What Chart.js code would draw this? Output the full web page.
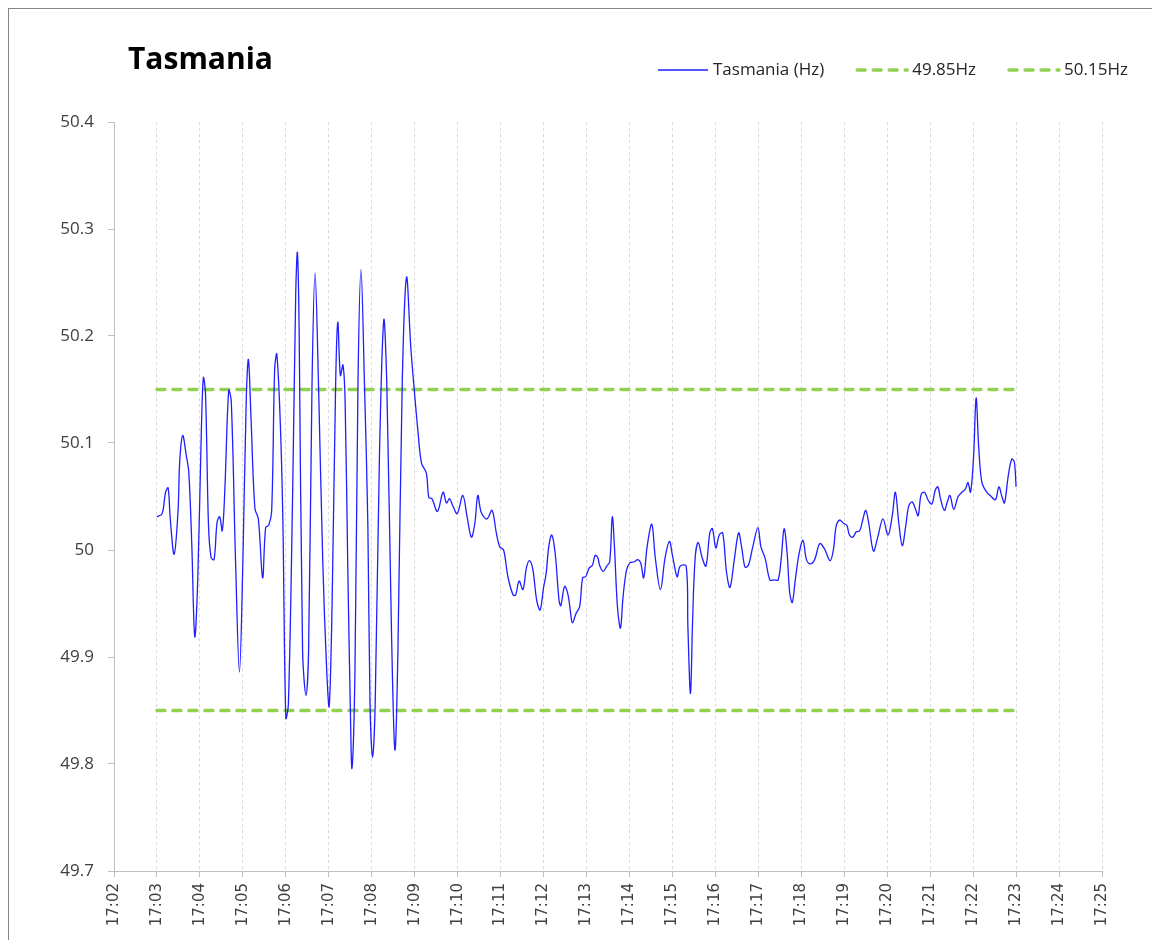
<!DOCTYPE html>
<html>
<head>
<meta charset="utf-8">
<script src="https://cdn.jsdelivr.net/npm/chart.js@4"></script>
<style>
html, body { margin: 0; padding: 0; background: #fff; overflow: hidden; }
#wrap { position: relative; width: 1152px; height: 940px; }
#frame { position: absolute; left: 8px; top: 8px; width: 1200px; height: 1000px; border: 1px solid #868686; pointer-events: none; }
</style>
</head>
<body>
<div id="wrap">
  <canvas id="chart" width="1152" height="940"></canvas>
  <div id="frame"></div>
</div>
<script>
const chartTitle = 'Tasmania';
const hour = 17;

// minutes past 17:00
const minutes = [
  3.00, 3.12, 3.20, 3.26, 3.31, 3.40, 3.49, 3.53, 3.60, 3.68, 3.74, 3.81, 3.88, 3.95,
  4.03, 4.08, 4.13, 4.20, 4.26, 4.33, 4.40, 4.46, 4.52, 4.58, 4.67, 4.73, 4.83, 4.92,
  5.00, 5.08, 5.13, 5.19, 5.28, 5.36, 5.46, 5.53, 5.60, 5.67, 5.74, 5.79, 5.87, 5.93,
  6.00, 6.06, 6.16, 6.23, 6.27, 6.31, 6.39, 6.47, 6.53, 6.61, 6.68, 6.76, 6.86, 6.95,
  7.01, 7.08, 7.16, 7.21, 7.27, 7.33, 7.38, 7.44, 7.50, 7.54, 7.61, 7.68, 7.75, 7.83, 7.91, 7.96,
  8.02, 8.08, 8.18, 8.28, 8.35, 8.46, 8.54, 8.61, 8.71, 8.81, 8.91,
  9.00, 9.08, 9.16, 9.27, 9.33, 9.40, 9.53, 9.66, 9.74, 9.81, 9.89, 9.99,
  10.12, 10.22, 10.32, 10.40, 10.47, 10.55, 10.68, 10.80, 10.90, 10.98,
  11.07, 11.17, 11.29, 11.35, 11.43, 11.52, 11.60, 11.67, 11.75, 11.84, 11.92,
  12.00, 12.06, 12.12, 12.19, 12.27, 12.36, 12.40, 12.49, 12.57, 12.63, 12.67, 12.76, 12.84, 12.91, 12.98,
  13.06, 13.14, 13.20, 13.26, 13.31, 13.39, 13.47, 13.54, 13.60, 13.65, 13.72, 13.79, 13.85, 13.93,
  14.01, 14.11, 14.19, 14.26, 14.33, 14.41, 14.52, 14.60, 14.72, 14.83, 14.93,
  15.00, 15.11, 15.18, 15.32, 15.36, 15.42, 15.47, 15.53, 15.60, 15.69, 15.78, 15.87, 15.93,
  16.01, 16.09, 16.17, 16.26, 16.34, 16.44, 16.54, 16.61, 16.69, 16.77, 16.87, 16.99,
  17.06, 17.16, 17.27, 17.37, 17.46, 17.53, 17.60, 17.67, 17.73, 17.79, 17.86, 17.95,
  18.04, 18.12, 18.21, 18.31, 18.43, 18.54, 18.67, 18.75, 18.81, 18.89, 18.98,
  19.06, 19.12, 19.20, 19.28, 19.36, 19.43, 19.50, 19.57, 19.68, 19.78, 19.90,
  20.02, 20.12, 20.19, 20.27, 20.35, 20.43, 20.50, 20.58, 20.66, 20.72, 20.79, 20.87, 20.96,
  21.04, 21.12, 21.18, 21.24, 21.33, 21.40, 21.46, 21.55, 21.65, 21.74, 21.82, 21.88, 21.94,
  22.01, 22.07, 22.13, 22.20, 22.30, 22.42, 22.52, 22.60, 22.67, 22.73, 22.82, 22.90, 22.96, 23.00
];

const tasmaniaHz = [
  50.031, 50.034, 50.054, 50.058, 50.029, 49.996, 50.036, 50.083, 50.107, 50.089, 50.073, 50.006, 49.919, 49.973,
  50.106, 50.161, 50.146, 50.023, 49.993, 49.991, 50.026, 50.031, 50.018, 50.056, 50.149, 50.139, 49.989, 49.886,
  49.989, 50.143, 50.178, 50.123, 50.039, 50.029, 49.974, 50.021, 50.023, 50.036, 50.169, 50.183, 50.120, 50.030,
  49.843, 49.856, 50.056, 50.239, 50.278, 50.206, 49.906, 49.864, 49.906, 50.156, 50.259, 50.156, 49.989, 49.889,
  49.854, 49.956, 50.156, 50.213, 50.163, 50.173, 50.139, 49.989, 49.856, 49.796, 49.889, 50.156, 50.262, 50.156, 50.023, 49.856,
  49.806, 49.856, 50.089, 50.215, 50.156, 49.923, 49.813, 49.906, 50.156, 50.255, 50.189,
  50.145, 50.109, 50.081, 50.072, 50.049, 50.048, 50.036, 50.054, 50.044, 50.048, 50.041, 50.034,
  50.051, 50.031, 50.012, 50.025, 50.051, 50.035, 50.029, 50.037, 50.016, 50.003,
  50.000, 49.975, 49.958, 49.958, 49.971, 49.963, 49.983, 49.990, 49.982, 49.953, 49.944,
  49.965, 49.978, 50.003, 50.014, 49.997, 49.953, 49.948, 49.966, 49.958, 49.941, 49.932, 49.941, 49.947, 49.974, 49.975,
  49.983, 49.986, 49.995, 49.993, 49.985, 49.980, 49.985, 49.989, 50.031, 50.003, 49.947, 49.927, 49.956, 49.981,
  49.988, 49.989, 49.991, 49.988, 49.974, 50.003, 50.024, 49.993, 49.963, 49.993, 50.008,
  49.995, 49.975, 49.985, 49.985, 49.928, 49.866, 49.935, 49.993, 50.007, 49.993, 49.985, 50.016, 50.020,
  50.002, 50.014, 50.016, 49.979, 49.965, 49.991, 50.016, 50.003, 49.984, 49.986, 50.003, 50.021,
  50.003, 49.992, 49.972, 49.972, 49.972, 49.991, 50.020, 49.997, 49.960, 49.951, 49.972, 49.997,
  50.009, 49.991, 49.987, 49.991, 50.006, 50.001, 49.990, 50.001, 50.022, 50.028, 50.025,
  50.023, 50.014, 50.012, 50.017, 50.018, 50.028, 50.037, 50.025, 49.999, 50.012, 50.029,
  50.014, 50.033, 50.054, 50.025, 50.004, 50.022, 50.041, 50.045, 50.038, 50.032, 50.052, 50.054, 50.046,
  50.043, 50.056, 50.059, 50.048, 50.037, 50.045, 50.051, 50.038, 50.050, 50.054, 50.057, 50.063, 50.054,
  50.087, 50.142, 50.096, 50.064, 50.055, 50.050, 50.047, 50.059, 50.050, 50.044, 50.070, 50.085, 50.082, 50.059
];

const limitMinutes = [3, 23];
const lowLimit = [49.85, 49.85];
const highLimit = [50.15, 50.15];

const header = {
  id: 'header',
  afterDraw(chart) {
    const c = chart.ctx;
    c.save();
    c.textBaseline = 'middle';
    c.fillStyle = '#000';
    c.font = 'bold 30px "Open Sans"';
    c.fillText(chartTitle, 128, 60);
    c.font = '17px "Open Sans"';
    let x = 658;
    chart.data.datasets.forEach(ds => {
      c.strokeStyle = ds.borderColor;
      c.lineWidth = ds.borderWidth;
      c.lineCap = ds.borderCapStyle || 'butt';
      c.setLineDash(ds.borderDash || []);
      c.beginPath();
      c.moveTo(x, 70);
      c.lineTo(x + 50, 70);
      c.stroke();
      x += 55;
      c.fillStyle = '#262626';
      c.fillText(ds.label, x, 70);
      x += c.measureText(ds.label).width + 33;
    });
    c.restore();
  }
};

new Chart(document.getElementById('chart'), {
  type: 'line',
  data: {
    datasets: [{
      label: 'Tasmania (Hz)',
      data: minutes.map((m, i) => ({ x: m, y: tasmaniaHz[i] })),
      borderColor: '#1f1fff',
      borderWidth: 1.3,
      pointRadius: 0,
      tension: 0.35
    }, {
      label: '49.85Hz',
      data: limitMinutes.map((m, i) => ({ x: m, y: lowLimit[i] })),
      borderColor: '#92d050',
      borderWidth: 3.5,
      borderDash: [8, 8],
      borderCapStyle: 'round',
      pointRadius: 0
    }, {
      label: '50.15Hz',
      data: limitMinutes.map((m, i) => ({ x: m, y: highLimit[i] })),
      borderColor: '#92d050',
      borderWidth: 3.5,
      borderDash: [8, 8],
      borderCapStyle: 'round',
      pointRadius: 0
    }]
  },
  options: {
    responsive: false,
    animation: false,
    devicePixelRatio: 1,
    layout: { padding: { top: 122, left: 0, right: 50, bottom: 0 } },
    plugins: {
      legend: { display: false },
      title: { display: false },
      tooltip: { enabled: false }
    },
    scales: {
      x: {
        type: 'linear',
        min: 2,
        max: 25,
        afterFit(scale) { scale.height = 69; },
        ticks: {
          stepSize: 1,
          minRotation: 90,
          maxRotation: 90,
          padding: 6,
          color: '#404040',
          font: { family: 'DejaVu Sans', size: 15 },
          callback: v => hour + ':' + String(Math.round(v)).padStart(2, '0')
        },
        grid: {
          color: '#d9d9d9',
          tickLength: 6,
          tickColor: '#bfbfbf',
          tickBorderDash: []
        },
        border: { display: true, color: '#bfbfbf', dash: [3, 3] }
      },
      y: {
        min: 49.7,
        max: 50.4,
        afterFit(scale) { scale.width = 114; },
        ticks: {
          stepSize: 0.1,
          padding: 14,
          color: '#404040',
          font: { family: 'Open Sans', size: 17 },
          callback: v => String(Number(v.toFixed(1)))
        },
        grid: {
          drawOnChartArea: false,
          tickLength: 6,
          tickColor: '#bfbfbf'
        },
        border: { display: true, color: '#bfbfbf' }
      }
    }
  },
  plugins: [header]
});
</script>
</body>
</html>
